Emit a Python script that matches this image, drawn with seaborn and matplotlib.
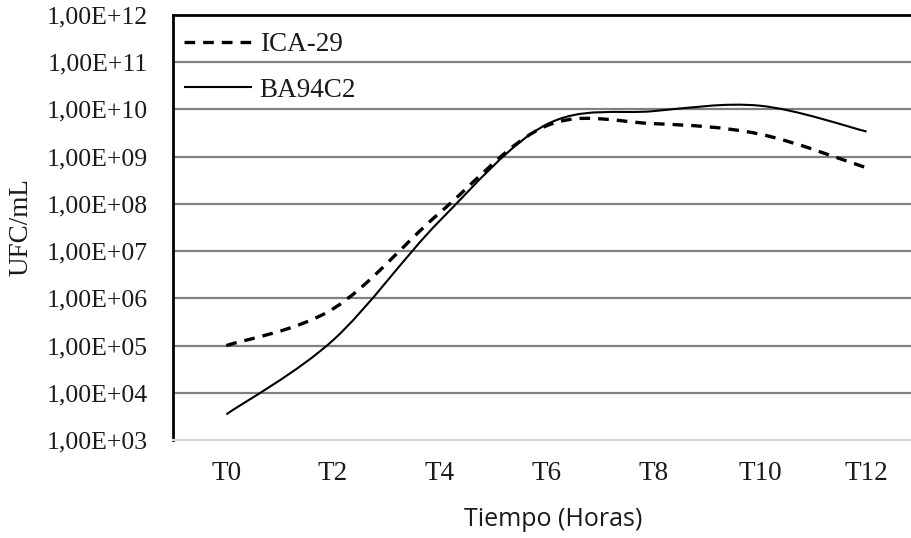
import numpy as np
import pandas as pd
import matplotlib
matplotlib.use("Agg")
import matplotlib.pyplot as plt
from matplotlib.path import Path
from matplotlib.patches import PathPatch
from matplotlib.ticker import FixedLocator, FixedFormatter
import seaborn as sns

# ---- data ----
categories = ["T0", "T2", "T4", "T6", "T8", "T10", "T12"]
ica29 = [1.0e5, 6.0e5, 6.5e7, 4.5e9, 5.0e9, 3.0e9, 5.8e8]
ba94c2 = [3.5e3, 1.3e5, 4.4e7, 4.8e9, 9.2e9, 1.2e10, 3.4e9]
series_names = ["ICA-29", "BA94C2"]
ytick_values = [1e3, 1e4, 1e5, 1e6, 1e7, 1e8, 1e9, 1e10, 1e11, 1e12]
ytick_labels = ["1,00E+03", "1,00E+04", "1,00E+05", "1,00E+06", "1,00E+07",
                "1,00E+08", "1,00E+09", "1,00E+10", "1,00E+11", "1,00E+12"]
xlabel = "Tiempo (Horas)"
ylabel = "UFC/mL"

df = pd.DataFrame({
    "t": list(range(len(categories))) * 2,
    "v": ica29 + ba94c2,
    "serie": [series_names[0]] * len(ica29) + [series_names[1]] * len(ba94c2),
})

sns.set_theme(style="white")
plt.rcParams["font.family"] = ["Liberation Serif", "DejaVu Serif"]

W, H = 912, 538
L, R, T, B = 173, 920, 15, 440
fig = plt.figure(figsize=(W / 100, H / 100), dpi=100)
ax = fig.add_axes([L / W, 1 - B / H, (R - L) / W, (B - T) / H])

styles = {series_names[0]: dict(lw=2.4, dashes=(3.2, 2.4)),
          series_names[1]: dict(lw=1.5, dashes=())}

sns.lineplot(data=df, x="t", y="v", hue="serie", style="serie",
             palette={n: "black" for n in series_names},
             dashes={series_names[0]: styles[series_names[0]]["dashes"],
                     series_names[1]: ""},
             ax=ax, legend=False)
ax.set_yscale("log")

# replace straight segments with smoothed (Excel-like) Bezier curves
def smooth_path(xs, ys):
    xs = np.asarray(xs, float)
    ly = np.log10(np.asarray(ys, float))
    n = len(xs)
    verts = [(xs[0], ly[0])]
    codes = [Path.MOVETO]
    for i in range(n - 1):
        p0 = np.array([xs[max(i - 1, 0)], ly[max(i - 1, 0)]])
        p1 = np.array([xs[i], ly[i]])
        p2 = np.array([xs[i + 1], ly[i + 1]])
        p3 = np.array([xs[min(i + 2, n - 1)], ly[min(i + 2, n - 1)]])
        c1 = p1 + (p2 - p0) / 6.0
        c2 = p2 - (p3 - p1) / 6.0
        verts += [tuple(c1), tuple(c2), tuple(p2)]
        codes += [Path.CURVE4] * 3
    verts = [(vx, 10 ** vy) for vx, vy in verts]
    return Path(verts, codes)

handles = []
for line in ax.get_lines():
    line.set_visible(False)
for name, vals in zip(series_names, [ica29, ba94c2]):
    st = styles[name]
    ls = (0, st["dashes"]) if st["dashes"] else "-"
    patch = PathPatch(smooth_path(range(len(categories)), vals), facecolor="none",
                      edgecolor="black", lw=st["lw"], linestyle=ls,
                      capstyle="butt", zorder=3)
    ax.add_patch(patch)
    h, = ax.plot([], [], color="black", lw=st["lw"], linestyle=ls,
                 solid_capstyle="butt", dash_capstyle="butt", label=name)
    handles.append(h)

ax.set_xlim(-0.5, len(categories) - 0.5)
ax.set_ylim(1e3, 1e12)
ax.yaxis.set_major_locator(FixedLocator(ytick_values))
ax.yaxis.set_major_formatter(FixedFormatter(ytick_labels))
ax.yaxis.set_minor_locator(FixedLocator([]))
ax.set_xticks(range(len(categories)))
ax.set_xticklabels(categories)

ax.grid(False)
for v in ytick_values[1:-1]:
    ax.axhline(v, color="#808080", lw=1.6, zorder=1)

for s in ["top", "left"]:
    ax.spines[s].set_visible(True)
    ax.spines[s].set_color("black")
    ax.spines[s].set_linewidth(2.0)
ax.spines["right"].set_visible(False)
ax.spines["bottom"].set_color("#d9d9d9")
ax.spines["bottom"].set_linewidth(1.6)

FS = 19.5
ax.tick_params(axis="both", which="both", length=0, colors="#1a1a1a")
ax.tick_params(axis="y", pad=18, labelsize=18.5)
ax.tick_params(axis="x", pad=15, labelsize=FS)

ax.set_xlabel(xlabel, fontsize=18, family=["Open Sans", "DejaVu Sans"],
              color="#1a1a1a")
ax.xaxis.set_label_coords((553 - L) / (R - L), -(507 - B) / (B - T))
ax.set_ylabel(ylabel, fontsize=FS, color="#1a1a1a")
ax.yaxis.set_label_coords(-(L - 33) / (R - L), (B - 227) / (B - T))

leg = ax.legend(handles=handles, loc="upper left", bbox_to_anchor=(0.0, 0.985),
                frameon=False, fontsize=FS, handlelength=2.5, handletextpad=0.3,
                labelspacing=0.75, borderaxespad=0)
for t in leg.get_texts():
    t.set_color("#1a1a1a")

fig.savefig("out.png", dpi=100, facecolor="white")
